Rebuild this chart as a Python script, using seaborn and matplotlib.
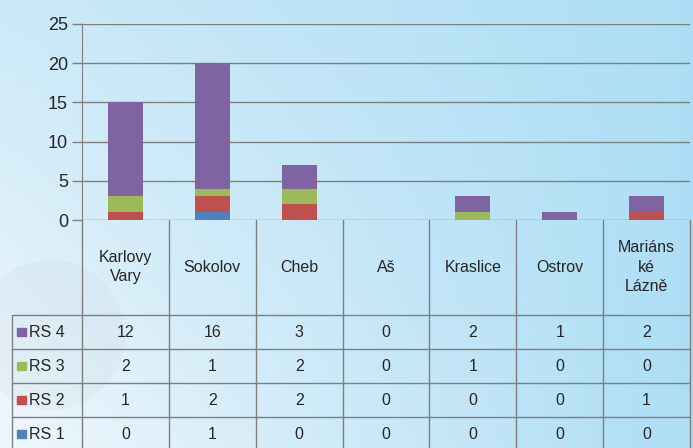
import numpy as np
import pandas as pd
import seaborn as sns
import matplotlib.pyplot as plt
from matplotlib.patches import Rectangle, Circle

towns = ["Karlovy\nVary", "Sokolov", "Cheb", "Aš", "Kraslice", "Ostrov", "Mariáns\nké\nLázně"]
series = ["RS 4", "RS 3", "RS 2", "RS 1"]
rs4 = [12, 16, 3, 0, 2, 1, 2]
rs3 = [2, 1, 2, 0, 1, 0, 0]
rs2 = [1, 2, 2, 0, 0, 0, 1]
rs1 = [0, 1, 0, 0, 0, 0, 0]
colors = {"RS 4": "#8064A2", "RS 3": "#9BBB59", "RS 2": "#C0504D", "RS 1": "#4F81BD"}

sns.set_style("white")
plt.rcParams['font.family'] = ['Liberation Sans', 'DejaVu Sans']

W, H = 693, 448
fig = plt.figure(figsize=(W / 100, H / 100), dpi=100)

# background gradient
bg = fig.add_axes([0, 0, 1, 1], zorder=-10)
xx, yy = np.meshgrid(np.linspace(0, 1, 200), np.linspace(0, 1, 200))
c_light = np.array([0.94, 0.97, 0.99])
c_blue = np.array([0.68, 0.87, 0.96])
w = np.clip(0.55 + 0.45 * xx - 0.55 * yy * (1 - xx), 0, 1)[..., None]
img = c_light * (1 - w) + c_blue * w
bg.imshow(img, extent=[0, W, H, 0], aspect="auto")
bg.add_patch(Circle((50, 335), 75, color="#c9d3dc", alpha=0.18, lw=0))
bg.set_xlim(0, W)
bg.set_ylim(H, 0)
bg.axis("off")

# stacked bars
df = pd.DataFrame({"town": towns, "RS 4": rs4, "RS 3": rs3, "RS 2": rs2, "RS 1": rs1})
ax = fig.add_axes([82 / W, (H - 220) / H, (690 - 82) / W, (220 - 24) / H])
ax.patch.set_alpha(0)
stack = ["RS 1", "RS 2", "RS 3", "RS 4"]
cum = df[stack].cumsum(axis=1)
for s in reversed(stack):
    sns.barplot(x=df["town"], y=cum[s], color=colors[s], width=0.4,
                saturation=1, linewidth=0, edgecolor="none", ax=ax, zorder=3)
ax.set_ylim(0, 25)
ax.set_xlim(-0.5, 6.5)
ax.set_yticks(range(0, 26, 5))
ax.yaxis.grid(True, color="#7f7f7f", lw=1, zorder=0)
ax.tick_params(axis="y", labelsize=13, colors="#262626", length=7,
               width=1, color="#7f7f7f", pad=3, direction="out", left=True)
ax.set_xticks([])
ax.set_xlabel("")
ax.set_ylabel("")
for sp in ["top", "right", "bottom"]:
    ax.spines[sp].set_visible(False)
ax.spines["left"].set_color("#7f7f7f")

# data table
tab = fig.add_axes([82 / W, 0, (690 - 82) / W, 228 / H])
tab.patch.set_alpha(0)
tab.set_xlim(-0.5, 6.5)
tab.set_ylim(0, 228)
tab.axis("off")
line_kw = dict(color="#7f7f7f", lw=1, clip_on=False)
row_tops = [133, 99, 65, 31]
left_edge = -0.5 - 70 / 87
tab.plot([-0.5, -0.5], [-5, 228], **line_kw)
for i in range(7):
    tab.plot([i + 0.5, i + 0.5], [-5, 228], **line_kw)
for yt in row_tops:
    tab.plot([left_edge, 6.5], [yt, yt], **line_kw)
tab.plot([left_edge, left_edge], [-5, row_tops[0]], **line_kw)
for i, t in enumerate(towns):
    tab.text(i, 181, t, ha="center", va="center", fontsize=11.5,
             color="#262626", linespacing=1.35)
vals = {"RS 4": rs4, "RS 3": rs3, "RS 2": rs2, "RS 1": rs1}
for r, s in enumerate(series):
    yc = row_tops[r] - 17
    tab.add_patch(Rectangle((left_edge + 0.06, yc - 4), 0.1, 8,
                            color=colors[s], clip_on=False))
    tab.text(left_edge + 0.2, yc, s, ha="left", va="center", fontsize=11.5,
             color="#262626")
    for i, v in enumerate(vals[s]):
        tab.text(i, yc, str(v), ha="center", va="center", fontsize=11.5,
                 color="#262626")

fig.savefig("out.png", dpi=100)
